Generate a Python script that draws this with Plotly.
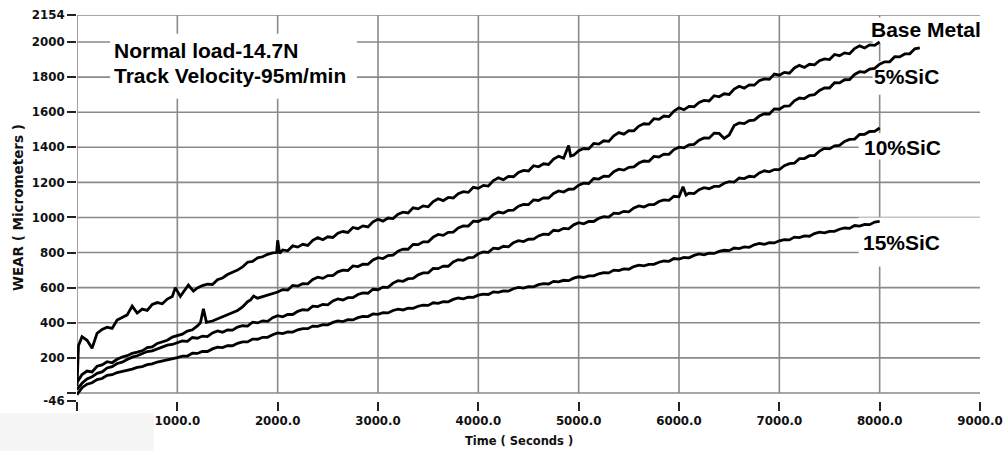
import plotly.graph_objects as go

# ---------------- data ----------------
# Base Metal
base_t = ([0, 15, 50, 100, 150, 200, 250, 300, 350, 400, 450, 500, 550, 600, 650, 700, 750, 800, 850, 900,
           950, 980, 1030, 1080, 1110, 1160, 1200, 1250, 1300, 1350, 1400, 1450, 1500, 1550, 1600, 1650,
           1700, 1750, 1800, 1850, 1900, 1950, 1990, 2000, 2020]
          + list(range(2050, 4900, 50)) + [4900, 4920] + list(range(4950, 8001, 50)))
base_v = [40, 270, 320, 300, 255, 340, 362, 375, 368, 415, 430, 445, 495, 455, 478, 470, 505, 515, 508, 535,
          550, 600, 550, 590, 615, 580, 598, 612, 620, 618, 645, 655, 675, 688, 700, 718,
          745, 750, 770, 776, 790, 798, 800, 870, 795,
          815, 810, 838, 831, 847, 841, 870, 885, 873, 890, 886, 910,
          920, 915, 943, 936, 952, 946, 975, 990,
          979, 997, 994, 1019, 1030, 1026, 1055, 1049, 1066, 1061, 1091, 1107, 1096, 1114, 1111, 1136,
          1147, 1143, 1172, 1166,
          1183, 1179, 1210, 1226, 1215, 1234, 1232, 1257, 1268, 1265, 1295, 1289, 1306, 1302, 1333, 1349, 1338,
          1410, 1350,
          1355, 1380,
          1393, 1391, 1422, 1418, 1437, 1434, 1466, 1484, 1475, 1495, 1494, 1521, 1534, 1532, 1563, 1559,
          1578, 1575, 1607, 1625,
          1614, 1633, 1631, 1656, 1667, 1664, 1694, 1688, 1705, 1701, 1732, 1748, 1737, 1756, 1754, 1779,
          1790, 1787, 1817, 1811,
          1827, 1822, 1852, 1867, 1855, 1873, 1870, 1894, 1904, 1900, 1929, 1922, 1938, 1933, 1963, 1978,
          1966, 1984, 1981, 2000]

# 5%SiC
sic5_t = (list(range(0, 1201, 50))
          + [1230, 1260, 1290, 1350, 1400, 1450, 1500, 1550, 1600, 1650, 1700, 1730, 1760, 1800, 1850, 1900,
             1950, 2000]
          + list(range(2050, 8401, 50)))
sic5_v = [60, 105, 125, 120, 152, 160, 178, 172, 192, 205, 212, 226, 232, 240, 258, 262, 282, 290, 300, 318,
          328, 335, 352, 360, 382,
          400, 480, 402, 410, 422, 430, 442, 455, 470, 490, 520, 530, 552, 540, 548, 556, 565, 575,
          589, 587, 613, 609, 623, 622, 647, 660, 653, 669, 669, 690, 700, 698, 724, 720, 734, 733, 758, 771,
          766, 783, 785, 808, 820, 819, 847, 845, 861, 861, 888, 903, 898, 915, 917, 940, 952, 951, 979, 977,
          992, 991, 1017, 1031, 1025, 1041, 1042, 1064, 1075, 1073, 1100, 1097, 1112, 1111, 1137, 1151, 1145,
          1161, 1162, 1184,
          1196, 1194, 1222, 1219, 1235, 1234, 1261, 1275, 1270, 1286, 1288, 1310, 1322, 1320, 1348, 1345, 1361,
          1360, 1387, 1401,
          1397, 1414, 1417, 1440, 1453, 1452, 1481, 1479,
          1450, 1470, 1524, 1539, 1535, 1552, 1555, 1578, 1591, 1590, 1619, 1617,
          1635, 1636, 1665, 1681, 1678, 1696, 1700, 1724, 1738, 1738, 1768, 1767, 1785, 1786, 1815, 1831, 1828,
          1846, 1850, 1874,
          1887, 1887, 1916, 1915, 1932, 1933, 1961, 1966]

# 10%SiC
sic10_t = list(range(0, 6001, 50)) + [6040, 6070] + list(range(6100, 8001, 50))
sic10_v = [20, 55, 80, 92, 112, 120, 142, 150, 168, 175, 190, 204, 212, 222, 236, 240, 252, 262, 272, 276, 286,
           296, 294, 316, 312, 324, 321, 342, 353, 346, 359, 358, 375, 383, 381, 403, 399, 411, 408, 429, 440,
           434, 447, 447, 465, 474, 472, 495, 492, 505, 502, 524, 536, 530, 543, 543, 561, 570, 568, 591, 588,
           603, 602, 626, 640, 636, 651, 653, 673, 684, 684, 709, 708, 723, 722, 746, 760, 756, 771, 773, 793,
           803, 801, 825, 822, 836, 833, 856, 868, 863, 876, 877, 895, 905, 903, 927, 924, 938, 935, 958, 970,
           964, 977, 977, 995, 1004, 1002, 1025, 1022, 1035, 1032, 1054, 1066, 1060, 1073, 1073, 1091, 1100,
           1098, 1121, 1118,
           1175, 1128,
           1139, 1136, 1158, 1170, 1164, 1177, 1177, 1195, 1204, 1202, 1225, 1222, 1235, 1232, 1254, 1266, 1260,
           1273, 1273,
           1295, 1307, 1309, 1335, 1336, 1352, 1353, 1378, 1394, 1391, 1408, 1411, 1433, 1445, 1447, 1473, 1474,
           1490, 1491, 1510]

# 15%SiC
sic15_t = list(range(0, 8001, 50))
sic15_v = [-10, 30, 50, 58, 76, 82, 100, 104, 116, 122, 131, 136, 146, 150, 161, 166, 176, 182, 190, 193, 201,
           210, 210, 226, 225, 236, 236, 251, 261, 258, 269, 269, 283, 291, 291, 307, 306, 317, 317, 332, 342,
           338, 348, 347, 360, 367, 366, 381, 379, 389, 388, 402, 411, 407, 417, 416, 429, 436, 435, 450, 448,
           457, 456, 470, 478, 473, 483, 482, 494, 500, 499, 514, 511, 520, 519, 533, 541, 536, 546, 545, 557,
           563, 561, 576, 573, 582, 580, 594, 602, 597, 606, 605, 617, 623, 621, 636, 633, 642, 640, 654, 662,
           658, 667, 667, 679, 686, 684, 700, 697, 707, 705, 720, 728, 724, 733, 733, 745, 752, 750, 766, 763,
           772, 770, 784, 792, 787, 796, 795, 807, 813, 811, 826, 823, 832, 830, 844, 852, 847, 856, 855, 867,
           874, 872, 888, 885, 895, 893, 908, 916, 912, 921, 921, 933, 940, 938, 954, 951, 961, 959, 974, 978]

x_ticks = [0, 1000, 2000, 3000, 4000, 5000, 6000, 7000, 8000, 9000]
x_ticktext = ["0.0", "1000.0", "2000.0", "3000.0", "4000.0", "5000.0", "6000.0", "7000.0", "8000.0", "9000.0"]
y_ticks = [-46, 0, 200, 400, 600, 800, 1000, 1200, 1400, 1600, 1800, 2000, 2154]
y_ticktext = ["-46", "", "200", "400", "600", "800", "1000", "1200", "1400", "1600", "1800", "2000", "2154"]
h_grid = [0, 200, 400, 600, 800, 1000, 1200, 1400, 1600, 1800, 2000, 2154]
v_grid = [0, 1000, 2000, 3000, 4000, 5000, 6000, 7000, 8000]

X_RANGE = [0, 9000]
Y_RANGE = [-46, 2154]

series = [
    ("Base Metal", base_t, base_v),
    ("5%SiC", sic5_t, sic5_v),
    ("10%SiC", sic10_t, sic10_v),
    ("15%SiC", sic15_t, sic15_v),
]
for name, t, v in series:
    assert len(t) == len(v), (name, len(t), len(v))

fig = go.Figure()
for name, t, v in series:
    fig.add_trace(go.Scatter(x=t, y=v, mode="lines", name=name,
                             line=dict(color="black", width=2.8), showlegend=False))

GRID = "#8a8a8a"
shapes = []
for yv in h_grid:
    shapes.append(dict(type="line", xref="x", yref="y", x0=X_RANGE[0], x1=X_RANGE[1], y0=yv, y1=yv,
                       line=dict(color=GRID, width=1.6), layer="below"))
for xv in v_grid:
    shapes.append(dict(type="line", xref="x", yref="y", x0=xv, x1=xv, y0=0, y1=Y_RANGE[1],
                       line=dict(color=GRID, width=1.6), layer="below"))
# white boxes behind the text labels (hide grid, stay under the curves)
for x0, x1, y0, y1 in [(330, 2790, 1676, 2047), (7930, 9000, 1995, 2140), (7930, 9000, 1700, 1890),
                       (7790, 9000, 1330, 1480), (7790, 9000, 720, 1000)]:
    shapes.append(dict(type="rect", xref="x", yref="y", x0=x0, x1=x1, y0=y0, y1=y1,
                       fillcolor="white", line=dict(width=0), layer="below"))
# pale patch in the lower-left corner of the picture
shapes.append(dict(type="rect", xref="paper", yref="paper", x0=-0.09, x1=0.085, y0=-0.031, y1=-0.14,
                   fillcolor="#f5f5f5", line=dict(width=0), layer="above"))

L, R, T, B = 77, 25, 15, 50
W, H = 1005, 451
pw, ph = W - L - R, H - T - B

ann_font = dict(family="Liberation Sans, Arial, sans-serif", size=21, color="black", weight="bold")
annotations = [
    dict(x=350, y=1950, xref="x", yref="y", text="Normal load-14.7N", showarrow=False,
         xanchor="left", yanchor="middle", font=ann_font),
    dict(x=350, y=1807, xref="x", yref="y", text="Track Velocity-95m/min", showarrow=False,
         xanchor="left", yanchor="middle", font=ann_font),
    dict(x=7894, y=2070, xref="x", yref="y", text="Base Metal", showarrow=False,
         xanchor="left", yanchor="middle", font=ann_font),
    dict(x=7924, y=1802, xref="x", yref="y", text="5%SiC", showarrow=False,
         xanchor="left", yanchor="middle", font=ann_font),
    dict(x=7824, y=1396, xref="x", yref="y", text="10%SiC", showarrow=False,
         xanchor="left", yanchor="middle", font=ann_font),
    dict(x=7814, y=859, xref="x", yref="y", text="15%SiC", showarrow=False,
         xanchor="left", yanchor="middle", font=ann_font),
    dict(x=(519 - L) / pw, y=(H - B - 441) / ph, xref="paper", yref="paper", text="Time ( Seconds )",
         showarrow=False, xanchor="center", yanchor="middle",
         font=dict(family="DejaVu Sans", size=11.5, color="#111", weight="bold")),
    dict(x=(18 - L) / pw, y=(H - B - 208) / ph, xref="paper", yref="paper", text="WEAR ( Micrometers )",
         showarrow=False, textangle=-90, xanchor="center", yanchor="middle",
         font=dict(family="DejaVu Sans", size=13.5, color="#111", weight="bold")),
]

tick_font = dict(family="DejaVu Sans", size=11.8, color="#111", weight="bold")
fig.update_layout(
    template="none",
    width=W, height=H,
    margin=dict(l=L, r=R, t=T, b=B, pad=0, autoexpand=False),
    paper_bgcolor="white", plot_bgcolor="white",
    shapes=shapes, annotations=annotations, showlegend=False,
    xaxis=dict(range=X_RANGE, tickmode="array", tickvals=x_ticks, ticktext=x_ticktext,
               showgrid=False, zeroline=False, showline=False, automargin=False,
               ticks="outside", ticklen=9, tickwidth=2, tickcolor="#222",
               tickfont=tick_font),
    yaxis=dict(range=Y_RANGE, tickmode="array", tickvals=y_ticks, ticktext=y_ticktext,
               showgrid=False, zeroline=False, showline=False, automargin=False,
               ticks="outside", ticklen=9, tickwidth=2, tickcolor="#222",
               tickfont=tick_font),
)

# remove the browser's default page margin so the figure sits at the top-left corner
fig.write_html("out.html", config={"displayModeBar": False},
               post_script="document.body.style.margin='0px';document.body.style.overflow='hidden';")
